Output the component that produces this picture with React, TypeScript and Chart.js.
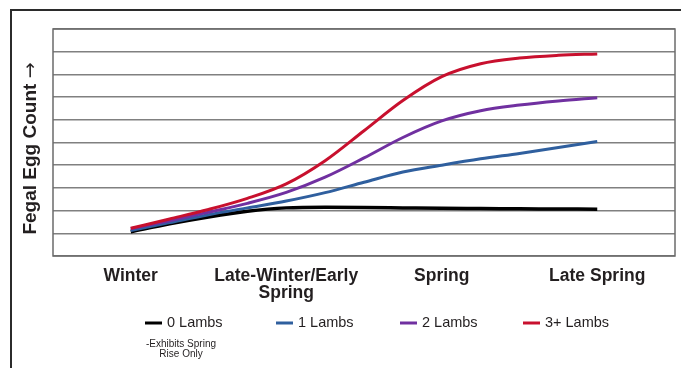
import React, { useEffect, useRef } from "react";
import { Chart, registerables } from "chart.js";

Chart.register(...registerables);

// ---- data ----
const SEASON_POS = [0, 1, 2, 3];
const SEASON_LABELS: string[][] = [
  ["Winter"],
  ["Late-Winter/Early", "Spring"],
  ["Spring"],
  ["Late Spring"],
];
const SAMPLE_X = [0, 0.25, 0.5, 0.75, 1, 1.25, 1.5, 1.75, 2, 2.25, 2.5, 2.75, 3];
const LAMBS_0 = [1.07, 1.42, 1.72, 1.97, 2.12, 2.15, 2.14, 2.12, 2.1, 2.09, 2.08, 2.07, 2.06];
const LAMBS_1 = [1.12, 1.47, 1.82, 2.12, 2.42, 2.79, 3.25, 3.7, 4.0, 4.28, 4.52, 4.78, 5.04];
const LAMBS_2 = [1.2, 1.55, 1.93, 2.32, 2.8, 3.47, 4.32, 5.22, 5.95, 6.4, 6.65, 6.83, 6.97];
const LAMBS_3 = [1.22, 1.63, 2.05, 2.54, 3.18, 4.2, 5.52, 6.85, 7.9, 8.47, 8.72, 8.84, 8.9];
const SERIES_NAMES = ["0 Lambs", "1 Lambs", "2 Lambs", "3+ Lambs"];
const SERIES_VALUES = [LAMBS_0, LAMBS_1, LAMBS_2, LAMBS_3];
const SERIES_COLORS = ["#000000", "#2f5f9e", "#7030a0", "#c8102e"];
const NOTE_LINES = ["-Exhibits Spring", "Rise Only"];
const Y_TITLE = "Fegal Egg Count";
const Y_ARROW = "\u2192";
const Y_MIN = 0;
const Y_MAX = 10;

const FONT = '"Liberation Sans", Arial, Helvetica, sans-serif';
const TEXT = "#231f20";
const LEGEND_X = [145, 276, 400, 523];
const LEGEND_Y = 323;

const decorPlugin = {
  id: "decor",
  beforeDraw(chart: any) {
    const ctx = chart.ctx;
    ctx.save();
    ctx.fillStyle = "#ffffff";
    ctx.fillRect(0, 0, chart.width, chart.height);
    ctx.restore();
  },
  afterDraw(chart: any) {
    const ctx = chart.ctx;
    const a = chart.chartArea;
    ctx.save();
    // plot border
    ctx.strokeStyle = "#6b6b6b";
    ctx.lineWidth = 1.5;
    ctx.strokeRect(a.left, a.top, a.right - a.left, a.bottom - a.top);
    // outer frame
    ctx.strokeStyle = "#2b2b2b";
    ctx.lineWidth = 2;
    ctx.beginPath();
    ctx.moveTo(11, chart.height);
    ctx.lineTo(11, 10);
    ctx.lineTo(chart.width, 10);
    ctx.stroke();
    // y axis title
    ctx.save();
    ctx.translate(31, (a.top + a.bottom) / 2 + 6);
    ctx.rotate(-Math.PI / 2);
    ctx.fillStyle = TEXT;
    ctx.textBaseline = "middle";
    ctx.textAlign = "left";
    ctx.font = `bold 19px ${FONT}`;
    const w1 = ctx.measureText(Y_TITLE + " ").width;
    ctx.font = `19px "DejaVu Sans", sans-serif`;
    const w2 = ctx.measureText(Y_ARROW).width;
    const start = -(w1 + w2) / 2;
    ctx.font = `bold 19px ${FONT}`;
    ctx.fillText(Y_TITLE, start, 0);
    ctx.font = `19px "DejaVu Sans", sans-serif`;
    ctx.fillText(Y_ARROW, start + w1, 0);
    ctx.restore();
    // legend
    ctx.font = `14.5px ${FONT}`;
    ctx.textBaseline = "middle";
    ctx.textAlign = "left";
    SERIES_NAMES.forEach((name, i) => {
      const x = LEGEND_X[i];
      ctx.strokeStyle = SERIES_COLORS[i];
      ctx.lineWidth = 3;
      ctx.beginPath();
      ctx.moveTo(x, LEGEND_Y);
      ctx.lineTo(x + 17, LEGEND_Y);
      ctx.stroke();
      ctx.fillStyle = TEXT;
      ctx.fillText(name, x + 22, LEGEND_Y);
    });
    // note under first legend item
    ctx.font = `10px ${FONT}`;
    const w = ctx.measureText(NOTE_LINES[0]).width;
    ctx.textAlign = "center";
    const cx = LEGEND_X[0] + 1 + w / 2;
    NOTE_LINES.forEach((t, i) => ctx.fillText(t, cx, 344.5 + i * 10));
    ctx.restore();
  },
};

export default function App() {
  const ref = useRef<HTMLCanvasElement | null>(null);
  useEffect(() => {
    if (!ref.current) return;
    const datasets = SERIES_NAMES.map((name, i) => ({
      label: name,
      data: SAMPLE_X.map((x, j) => ({ x, y: SERIES_VALUES[i][j] })),
      borderColor: SERIES_COLORS[i],
      backgroundColor: SERIES_COLORS[i],
      borderWidth: i === 0 ? 3.5 : 3,
      pointRadius: 0,
      cubicInterpolationMode: "monotone" as const,
      fill: false,
      order: SERIES_NAMES.length - 1 - i,
    }));
    const chart = new Chart(ref.current, {
      type: "line",
      data: { datasets },
      options: {
        animation: false,
        responsive: false,
        devicePixelRatio: 1,
        events: [],
        layout: { padding: { left: 19, right: 6, top: 29, bottom: 55 } },
        plugins: {
          legend: { display: false },
          tooltip: { enabled: false },
        },
        scales: {
          x: {
            type: "linear",
            min: -0.5,
            max: 3.5,
            afterBuildTicks: (s: any) => {
              s.ticks = SEASON_POS.map((v) => ({ value: v }));
            },
            grid: { display: false, drawTicks: false },
            border: { display: false },
            ticks: {
              autoSkip: false,
              maxRotation: 0,
              padding: 11,
              color: TEXT,
              font: { family: FONT, size: 17.5, weight: "bold", lineHeight: 1.0 },
              callback: (v: any) => {
                const i = SEASON_POS.indexOf(Number(v));
                return i >= 0 ? SEASON_LABELS[i] : "";
              },
            },
          },
          y: {
            min: Y_MIN,
            max: Y_MAX,
            afterFit: (s: any) => {
              s.width = 34;
            },
            ticks: { display: false, stepSize: 1 },
            grid: { color: "#808080", lineWidth: 1.5, drawTicks: false },
            border: { display: false },
            title: { display: false },
          },
        },
      },
      plugins: [decorPlugin],
    });
    return () => chart.destroy();
  }, []);
  return (
    <div style={{ position: "fixed", left: 0, top: 0 }}>
      <canvas ref={ref} width={681} height={368} style={{ display: "block" }} />
    </div>
  );
}
